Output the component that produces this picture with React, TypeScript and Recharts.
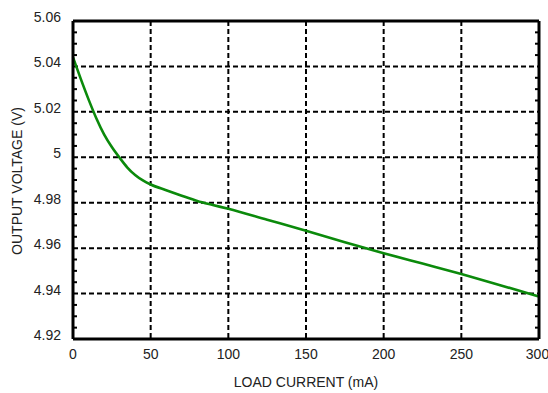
// Output voltage vs load current — regulator load regulation curve.
import { CartesianGrid, Line, LineChart, XAxis, YAxis } from 'recharts';

const loadCurrent = [0, 5, 10, 15, 20, 25, 30, 35, 40, 45, 50, 60, 70, 80, 90, 100, 125, 150, 175, 200, 225, 250, 275, 300];
const outputVoltage = [
  5.044, 5.0345, 5.0255, 5.0172, 5.0101, 5.0045, 4.9998, 4.9955, 4.9922, 4.9898, 4.988, 4.9855,
  4.9831, 4.9808, 4.979, 4.9773, 4.9725, 4.9677, 4.9626, 4.9578, 4.9532, 4.9486, 4.9437, 4.9387,
];
const xTicks = [0, 50, 100, 150, 200, 250, 300];
const yTicks = [4.92, 4.94, 4.96, 4.98, 5.0, 5.02, 5.04, 5.06];
const yMinorTicks = [
  4.925, 4.93, 4.935, 4.945, 4.95, 4.955, 4.965, 4.97, 4.975, 4.985, 4.99, 4.995,
  5.005, 5.01, 5.015, 5.025, 5.03, 5.035, 5.045, 5.05, 5.055,
];

const data = loadCurrent.map((c, i) => ({ current: c, voltage: outputVoltage[i] }));

const FONT = 'Liberation Sans, Arial, sans-serif';
const DOMAIN_Y: [number, number] = [4.92, 5.06];
const FRAME = { stroke: '#000', strokeWidth: 3 };
const MINOR = { stroke: '#000', strokeWidth: 2 };

const YLabel = () => (
  <text
    transform="translate(22,181) rotate(-90)"
    textAnchor="middle"
    fontFamily={FONT}
    fontSize={14}
    fill="#222"
  >
    OUTPUT VOLTAGE (V)
  </text>
);

const XLabel = () => (
  <text x={306} y={387} textAnchor="middle" fontFamily={FONT} fontSize={14} fill="#222">
    LOAD CURRENT (mA)
  </text>
);

export default function App() {
  return (
    <div style={{ position: 'absolute', left: 0, top: 0, width: 548, height: 393, background: '#fff' }}>
      <LineChart width={548} height={393} data={data} margin={{ top: 21, right: 9, bottom: 0, left: 0 }}>
        <CartesianGrid stroke="#000" strokeWidth={2} strokeDasharray="5 3" />
        <XAxis
          dataKey="current"
          type="number"
          domain={[0, 300]}
          ticks={xTicks}
          height={54}
          tickLine={false}
          tickSize={0}
          tickMargin={10}
          axisLine={FRAME}
          tick={{ fill: '#222', fontSize: 14, fontFamily: FONT }}
          label={<XLabel />}
        />
        {/* top edge of the frame */}
        <XAxis
          xAxisId="top"
          orientation="top"
          type="number"
          domain={[0, 300]}
          allowDataOverflow
          height={1}
          mirror
          tick={false}
          tickLine={false}
          axisLine={FRAME}
        />
        <YAxis
          type="number"
          domain={DOMAIN_Y}
          ticks={yTicks}
          width={73}
          tickLine={false}
          tickSize={0}
          tickMargin={12}
          axisLine={FRAME}
          tick={{ fill: '#222', fontSize: 14, fontFamily: FONT, dy: -4 }}
          tickFormatter={(v: number) => String(Number(v.toFixed(2)))}
          label={<YLabel />}
        />
        {/* inward minor ticks, left and right */}
        <YAxis
          yAxisId="minorLeft"
          type="number"
          domain={DOMAIN_Y}
          allowDataOverflow
          ticks={yMinorTicks}
          interval={0}
          width={1}
          mirror
          axisLine={false}
          tickSize={4}
          tickLine={MINOR}
          tickFormatter={() => ''}
        />
        <YAxis
          yAxisId="right"
          orientation="right"
          type="number"
          domain={DOMAIN_Y}
          allowDataOverflow
          ticks={yMinorTicks}
          interval={0}
          width={1}
          mirror
          axisLine={FRAME}
          tickSize={4}
          tickLine={MINOR}
          tickFormatter={() => ''}
        />
        <Line
          type="monotone"
          dataKey="voltage"
          stroke="#0b8a0b"
          strokeWidth={2.6}
          dot={false}
          isAnimationActive={false}
        />
      </LineChart>
    </div>
  );
}
